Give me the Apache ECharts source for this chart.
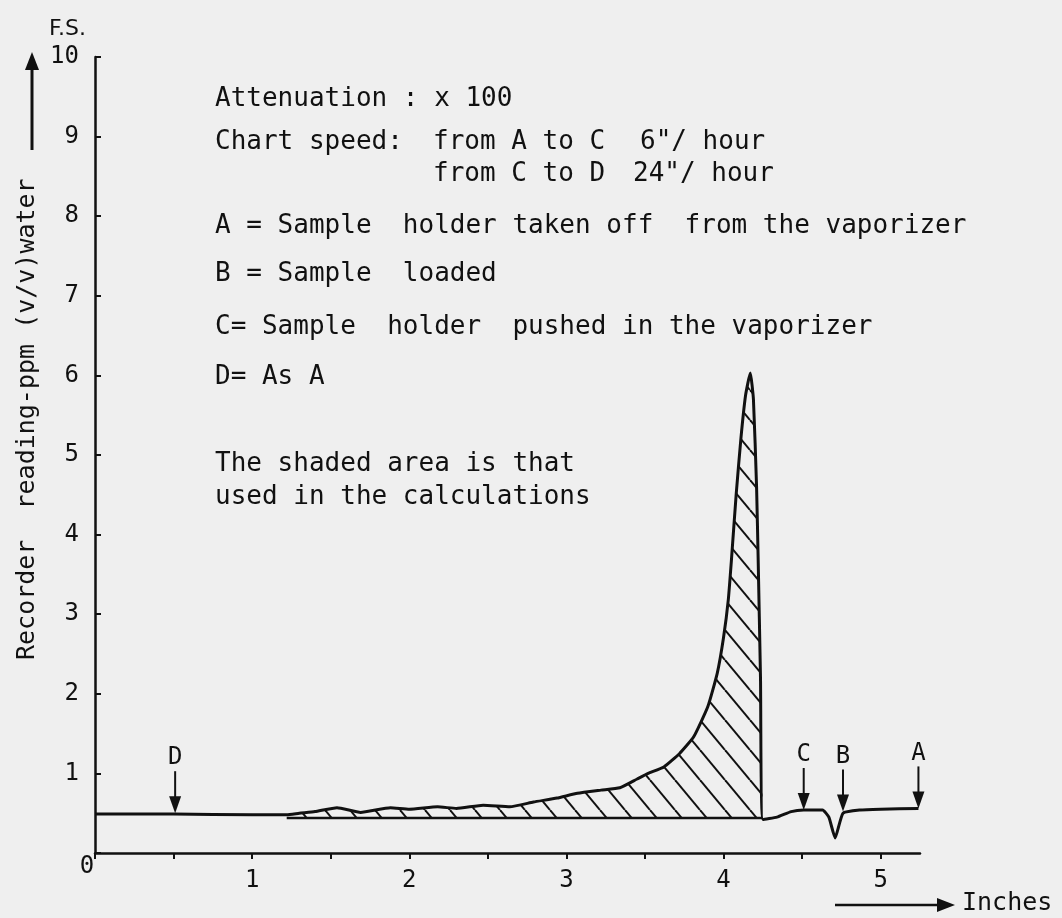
<!DOCTYPE html>
<html>
<head>
<meta charset="utf-8">
<script src="https://cdn.jsdelivr.net/npm/echarts@6/dist/echarts.min.js"></script>
<style>
  html, body { margin: 0; padding: 0; background: #efefef; }
  #chart { width: 1062px; height: 918px; }
</style>
</head>
<body>
<div id="chart"></div>
<script>
// ---- data ----
const curveX = [0, 0.5, 1.0, 1.22, 1.3, 1.4, 1.54, 1.69, 1.88, 2.0, 2.18, 2.3, 2.47, 2.64, 2.79, 2.94, 3.07, 3.22, 3.34, 3.45, 3.52, 3.62, 3.72, 3.81, 3.90, 3.96, 4.00, 4.03, 4.05, 4.08, 4.11, 4.14, 4.17, 4.19, 4.21, 4.22, 4.235, 4.25, 4.34, 4.43, 4.51, 4.63, 4.67, 4.71, 4.76, 4.87, 5.0, 5.24];
const curveY = [0.49, 0.49, 0.48, 0.48, 0.50, 0.52, 0.57, 0.51, 0.57, 0.55, 0.58, 0.56, 0.60, 0.58, 0.64, 0.69, 0.75, 0.79, 0.82, 0.93, 1.0, 1.08, 1.25, 1.46, 1.84, 2.26, 2.71, 3.18, 3.68, 4.5, 5.2, 5.75, 6.03, 5.7, 4.6, 3.7, 2.2, 0.42, 0.45, 0.52, 0.54, 0.54, 0.45, 0.19, 0.50, 0.54, 0.55, 0.56];
const shadedFrom = 1.22;          // start of the shaded area (inches)
const shadedTo = 4.25;            // end of the shaded area (inches)
const shadedBase = 0.44;          // baseline of the shaded area
const markerLabels = ['D', 'C', 'B', 'A'];
const markerX = [0.51, 4.51, 4.76, 5.24];
const markerY = [0.50, 0.54, 0.52, 0.56];
const xTickValues = [0, 0.5, 1, 1.5, 2, 2.5, 3, 3.5, 4, 4.5, 5];
const xLabelValues = [0, 1, 2, 3, 4, 5];
const yLabelValues = [1, 2, 3, 4, 5, 6, 7, 8, 9, 10];
const yAxisTitle = 'Recorder  reading-ppm (v/v)water';
const xAxisTitle = 'Inches';
const notes = [
  'Attenuation : x 100',
  'Chart speed:',
  'from A to C',
  '6"/ hour',
  'from C to D',
  '24"/ hour',
  'A = Sample  holder taken off  from the vaporizer',
  'B = Sample  loaded',
  'C= Sample  holder  pushed in the vaporizer',
  'D= As A',
  'The shaded area is that',
  'used in the calculations'
];

// ---- build ----
const curve = curveX.map((x, i) => [x, curveY[i]]);
const shaded = curve.filter(p => p[0] >= shadedFrom && p[0] <= shadedTo);
const markers = markerX.map((x, i) => [x, markerY[i], markerLabels[i]]);

const FONT = 'DejaVu Sans Mono';
const INK = '#111';

function hatchPattern() {
  const W = 25, H = 30;
  const c = document.createElement('canvas');
  c.width = W; c.height = H;
  const g = c.getContext('2d');
  g.strokeStyle = INK;
  g.lineWidth = 2;
  [[-W, 0], [0, 0], [W, 0]].forEach(o => {
    g.beginPath();
    g.moveTo(o[0], o[1]);
    g.lineTo(o[0] + W, o[1] + H);
    g.stroke();
  });
  return c;
}

const chart = echarts.init(document.getElementById('chart'), null, { renderer: 'canvas' });

function noteText(str, left, top) {
  return { type: 'text', left: left, top: top,
    style: { text: str, font: '26px "' + FONT + '"', fill: INK } };
}

const option = {
  animation: false,
  backgroundColor: '#efefef',
  grid: { left: 95, top: 57, right: 142, bottom: 65, containLabel: false },
  xAxis: {
    type: 'value', min: 0, max: 5.25,
    splitLine: { show: false },
    axisLine: { show: true, lineStyle: { color: INK, width: 2.5 } },
    axisTick: { show: true, customValues: xTickValues, length: 6, lineStyle: { color: INK, width: 2 } },
    axisLabel: {
      customValues: xLabelValues, margin: 2,
      formatter: v => v === 0 ? '{z|0}' : '{n|' + v + '}',
      rich: {
        z: { fontFamily: FONT, fontSize: 24, color: INK, padding: [0, 16, 0, 0] },
        n: { fontFamily: FONT, fontSize: 24, color: INK, padding: [14, 0, 0, 0] }
      }
    }
  },
  yAxis: {
    type: 'value', min: 0, max: 10, interval: 1,
    splitLine: { show: false },
    axisLine: { show: true, lineStyle: { color: INK, width: 2.5 } },
    axisTick: { show: true, inside: true, length: 6, lineStyle: { color: INK, width: 2 } },
    axisLabel: {
      customValues: yLabelValues, margin: 16,
      fontFamily: FONT, fontSize: 24, color: INK
    }
  },
  graphic: [
    { type: 'text', left: 49, top: 18, style: { text: 'F.S.', font: '22px "DejaVu Sans"', fill: INK } },
    { type: 'text', x: 15, y: 660, rotation: Math.PI / 2,
      style: { text: yAxisTitle, font: '25px "' + FONT + '"', fill: INK, align: 'left', verticalAlign: 'top' } },
    { type: 'line', shape: { x1: 32, y1: 150, x2: 32, y2: 64 }, style: { stroke: INK, lineWidth: 3 } },
    { type: 'polygon', shape: { points: [[32, 52], [25, 70], [39, 70]] }, style: { fill: INK } },
    { type: 'line', shape: { x1: 835, y1: 905, x2: 942, y2: 905 }, style: { stroke: INK, lineWidth: 2.5 } },
    { type: 'polygon', shape: { points: [[955, 905], [937, 898], [937, 912]] }, style: { fill: INK } },
    { type: 'text', left: 962, top: 891, style: { text: xAxisTitle, font: '25px "' + FONT + '"', fill: INK } },
    noteText(notes[0], 215, 86),
    noteText(notes[1], 215, 129),
    noteText(notes[2], 433, 129),
    noteText(notes[3], 640, 129),
    noteText(notes[4], 433, 161),
    noteText(notes[5], 633, 161),
    noteText(notes[6], 215, 213),
    noteText(notes[7], 215, 261),
    noteText(notes[8], 215, 314),
    noteText(notes[9], 215, 364),
    noteText(notes[10], 215, 451),
    noteText(notes[11], 215, 484)
  ],
  series: [
    {
      name: 'shaded', type: 'line', data: shaded, showSymbol: false, symbol: 'none',
      lineStyle: { width: 0 },
      areaStyle: { origin: shadedBase, color: { image: hatchPattern(), repeat: 'repeat' }, opacity: 1 },
      z: 1
    },
    {
      name: 'baseline', type: 'line', data: [[shadedFrom, shadedBase], [shadedTo, shadedBase]],
      showSymbol: false, symbol: 'none', lineStyle: { color: INK, width: 2.5 }, z: 2
    },
    {
      name: 'reading', type: 'line', data: curve, showSymbol: false, symbol: 'none',
      smooth: 0.15, lineStyle: { color: INK, width: 3 }, z: 3
    },
    {
      name: 'markers', type: 'custom', data: markers, z: 4,
      renderItem: function (params, api) {
        const p = api.coord([api.value(0), api.value(1)]);
        const label = markerLabels[params.dataIndex];
        return {
          type: 'group',
          children: [
            { type: 'line', shape: { x1: p[0], y1: p[1] - 42, x2: p[0], y2: p[1] - 12 }, style: { stroke: INK, lineWidth: 2 } },
            { type: 'polygon', shape: { points: [[p[0], p[1]], [p[0] - 6, p[1] - 17], [p[0] + 6, p[1] - 17]] }, style: { fill: INK } },
            { type: 'text', x: p[0], y: p[1] - 55, style: { text: label, font: '24px "' + FONT + '"', fill: INK, align: 'center', verticalAlign: 'middle' } }
          ]
        };
      }
    }
  ]
};
chart.setOption(option);
</script>
</body>
</html>
